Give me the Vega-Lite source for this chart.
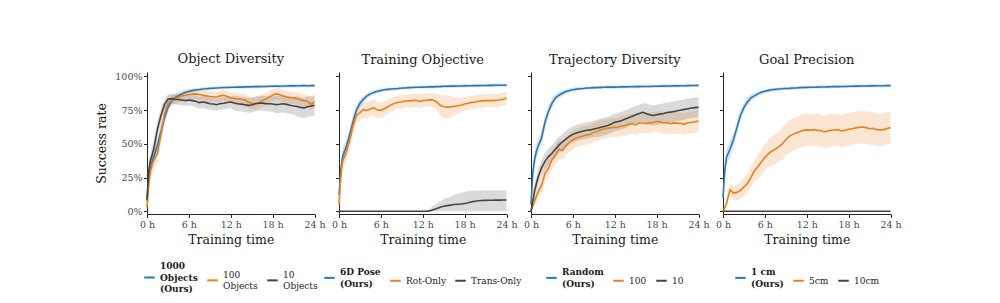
{
  "$schema": "https://vega.github.io/schema/vega-lite/v6.json",
  "padding": {"left": 95, "top": 53, "right": 5, "bottom": 5},
  "bounds": "flush",
  "spacing": 24,
  "resolve": {"scale": {"color": "independent"}, "legend": {"color": "independent"}},
  "config": {
    "font": "DejaVu Serif",
    "view": {"stroke": null},
    "axis": {"grid": false, "domainColor": "#262626", "tickColor": "#262626", "tickSize": 3.5, "labelFontSize": 9.5, "labelColor": "#4a4a4a", "labelPadding": 1.5, "titleFontSize": 12.5, "titleFontWeight": "normal", "titleColor": "#1a1a1a"},
    "axisX": {"titlePadding": 5},
    "axisY": {"titlePadding": 6},
    "title": {"fontSize": 13, "fontWeight": "normal", "color": "#1a1a1a", "offset": 5, "anchor": "middle"},
    "legend": {"orient": "bottom", "direction": "horizontal", "labelFontSize": 9, "labelColor": "#1a1a1a", "symbolType": "stroke", "symbolStrokeWidth": 2, "symbolSize": 110, "symbolOpacity": 1, "columnPadding": 5, "labelOffset": 4, "offset": 25, "layout": {"bottom": {"anchor": "middle"}}}
  },
  "datasets": {
    "objectDiversity": [
      {"s":"1000","t":0,"m":10,"l":4,"h":16},{"s":"1000","t":0.25,"m":25,"l":19,"h":31},{"s":"1000","t":0.5,"m":32,"l":26,"h":38},{"s":"1000","t":0.75,"m":37,"l":31,"h":43},{"s":"1000","t":1,"m":41,"l":35,"h":47},{"s":"1000","t":1.5,"m":49,"l":43,"h":55},{"s":"1000","t":2,"m":59,"l":53,"h":65},{"s":"1000","t":2.5,"m":69,"l":64,"h":74},{"s":"1000","t":3,"m":77,"l":73,"h":81},{"s":"1000","t":3.5,"m":81.5,"l":78.5,"h":84.5},{"s":"1000","t":4,"m":84,"l":81.5,"h":86.5},{"s":"1000","t":4.5,"m":85.6,"l":83.6,"h":87.6},{"s":"1000","t":5,"m":86.9,"l":85.1,"h":88.7},{"s":"1000","t":5.5,"m":88,"l":86.4,"h":89.6},{"s":"1000","t":6,"m":88.8,"l":87.3,"h":90.3},{"s":"1000","t":6.5,"m":89.4,"l":88,"h":90.8},{"s":"1000","t":7,"m":89.9,"l":88.6,"h":91.2},{"s":"1000","t":7.5,"m":90.2,"l":88.9,"h":91.5},{"s":"1000","t":8,"m":90.6,"l":89.3,"h":91.9},{"s":"1000","t":8.5,"m":90.8,"l":89.6,"h":92},{"s":"1000","t":9,"m":91.1,"l":89.9,"h":92.3},{"s":"1000","t":9.5,"m":91.2,"l":90,"h":92.4},{"s":"1000","t":10,"m":91.4,"l":90.2,"h":92.6},{"s":"1000","t":10.5,"m":91.5,"l":90.3,"h":92.7},{"s":"1000","t":11,"m":91.7,"l":90.5,"h":92.9},{"s":"1000","t":11.5,"m":91.7,"l":90.5,"h":92.9},{"s":"1000","t":12,"m":91.9,"l":90.7,"h":93.1},{"s":"1000","t":12.5,"m":91.9,"l":90.7,"h":93.1},{"s":"1000","t":13,"m":92.1,"l":90.9,"h":93.3},{"s":"1000","t":13.5,"m":92,"l":90.8,"h":93.2},{"s":"1000","t":14,"m":92.2,"l":91,"h":93.4},{"s":"1000","t":14.5,"m":92.2,"l":91,"h":93.4},{"s":"1000","t":15,"m":92.3,"l":91.1,"h":93.5},{"s":"1000","t":15.5,"m":92.4,"l":91.2,"h":93.6},{"s":"1000","t":16,"m":92.4,"l":91.2,"h":93.6},{"s":"1000","t":16.5,"m":92.5,"l":91.3,"h":93.7},{"s":"1000","t":17,"m":92.5,"l":91.3,"h":93.7},{"s":"1000","t":17.5,"m":92.6,"l":91.4,"h":93.8},{"s":"1000","t":18,"m":92.6,"l":91.4,"h":93.8},{"s":"1000","t":18.5,"m":92.7,"l":91.5,"h":93.9},{"s":"1000","t":19,"m":92.6,"l":91.4,"h":93.8},{"s":"1000","t":19.5,"m":92.8,"l":91.6,"h":94},{"s":"1000","t":20,"m":92.8,"l":91.6,"h":94},{"s":"1000","t":20.5,"m":92.9,"l":91.7,"h":94.1},{"s":"1000","t":21,"m":92.9,"l":91.7,"h":94.1},{"s":"1000","t":21.5,"m":93,"l":91.8,"h":94.2},{"s":"1000","t":22,"m":93,"l":91.8,"h":94.2},{"s":"1000","t":22.5,"m":93.1,"l":91.9,"h":94.3},{"s":"1000","t":23,"m":93,"l":91.8,"h":94.2},{"s":"1000","t":23.5,"m":93.1,"l":91.9,"h":94.3},{"s":"1000","t":24,"m":93.1,"l":91.9,"h":94.3},
      {"s":"100","t":0,"m":3,"l":0,"h":6},{"s":"100","t":0.25,"m":20,"l":14,"h":26},{"s":"100","t":0.5,"m":30,"l":23,"h":37},{"s":"100","t":0.75,"m":35,"l":28,"h":42},{"s":"100","t":1,"m":38,"l":31,"h":45},{"s":"100","t":1.5,"m":43,"l":36,"h":50},{"s":"100","t":2,"m":57,"l":50,"h":64},{"s":"100","t":2.5,"m":72,"l":66,"h":78},{"s":"100","t":3,"m":80,"l":75,"h":85},{"s":"100","t":3.5,"m":82,"l":78,"h":86},{"s":"100","t":4,"m":83.5,"l":79.5,"h":87.5},{"s":"100","t":4.5,"m":84.5,"l":80.5,"h":88.5},{"s":"100","t":5,"m":85.5,"l":81.5,"h":89.5},{"s":"100","t":5.5,"m":86,"l":82,"h":90},{"s":"100","t":6,"m":86.5,"l":82.5,"h":90.5},{"s":"100","t":6.5,"m":86.8,"l":82.8,"h":90.8},{"s":"100","t":7,"m":87,"l":83,"h":91},{"s":"100","t":7.5,"m":86.5,"l":82.5,"h":90.5},{"s":"100","t":8,"m":86,"l":82,"h":90},{"s":"100","t":8.5,"m":85.5,"l":81.5,"h":89.5},{"s":"100","t":9,"m":85,"l":81,"h":89},{"s":"100","t":9.5,"m":84.8,"l":80.8,"h":88.8},{"s":"100","t":10,"m":84.7,"l":80.7,"h":88.7},{"s":"100","t":10.5,"m":85.5,"l":81.5,"h":89.5},{"s":"100","t":11,"m":86,"l":82,"h":90},{"s":"100","t":11.5,"m":85,"l":81,"h":89},{"s":"100","t":12,"m":84,"l":80,"h":88},{"s":"100","t":12.5,"m":83.6,"l":79.1,"h":88.1},{"s":"100","t":13,"m":83.4,"l":78.9,"h":87.9},{"s":"100","t":13.5,"m":83,"l":78.5,"h":87.5},{"s":"100","t":14,"m":82.5,"l":78,"h":87},{"s":"100","t":14.5,"m":81,"l":76.5,"h":85.5},{"s":"100","t":15,"m":80,"l":75.5,"h":84.5},{"s":"100","t":15.5,"m":79.7,"l":75.2,"h":84.2},{"s":"100","t":16,"m":80.5,"l":76,"h":85},{"s":"100","t":16.5,"m":82,"l":77.5,"h":86.5},{"s":"100","t":17,"m":83,"l":78.5,"h":87.5},{"s":"100","t":17.5,"m":84.5,"l":80,"h":89},{"s":"100","t":18,"m":86,"l":81.5,"h":90.5},{"s":"100","t":18.5,"m":87,"l":82.5,"h":91.5},{"s":"100","t":19,"m":86.5,"l":82,"h":91},{"s":"100","t":19.5,"m":85.5,"l":81,"h":90},{"s":"100","t":20,"m":84.7,"l":80.2,"h":89.2},{"s":"100","t":20.5,"m":84.2,"l":79.7,"h":88.7},{"s":"100","t":21,"m":84,"l":79.5,"h":88.5},{"s":"100","t":21.5,"m":83.5,"l":79,"h":88},{"s":"100","t":22,"m":82.7,"l":78.2,"h":87.2},{"s":"100","t":22.5,"m":82,"l":77.5,"h":86.5},{"s":"100","t":23,"m":81.4,"l":76.9,"h":85.9},{"s":"100","t":23.5,"m":79.5,"l":75,"h":84},{"s":"100","t":24,"m":81,"l":76.5,"h":85.5},
      {"s":"10","t":0,"m":8,"l":3,"h":13},{"s":"10","t":0.25,"m":30,"l":24,"h":36},{"s":"10","t":0.5,"m":38,"l":32,"h":44},{"s":"10","t":0.75,"m":42,"l":36,"h":48},{"s":"10","t":1,"m":47,"l":41,"h":53},{"s":"10","t":1.5,"m":61,"l":55,"h":67},{"s":"10","t":2,"m":71,"l":66,"h":76},{"s":"10","t":2.5,"m":79,"l":75,"h":83},{"s":"10","t":3,"m":83,"l":79.5,"h":86.5},{"s":"10","t":3.5,"m":83.5,"l":80,"h":87},{"s":"10","t":4,"m":83,"l":79.5,"h":86.5},{"s":"10","t":4.5,"m":82.8,"l":78.8,"h":86.8},{"s":"10","t":5,"m":82.5,"l":78.5,"h":86.5},{"s":"10","t":5.5,"m":82,"l":78,"h":86},{"s":"10","t":6,"m":82.5,"l":78.5,"h":86.5},{"s":"10","t":6.5,"m":82,"l":78,"h":86},{"s":"10","t":7,"m":81.5,"l":77,"h":86},{"s":"10","t":7.5,"m":80.5,"l":76,"h":85},{"s":"10","t":8,"m":81,"l":76.5,"h":85.5},{"s":"10","t":8.5,"m":80.5,"l":76,"h":85},{"s":"10","t":9,"m":79.7,"l":75.2,"h":84.2},{"s":"10","t":9.5,"m":79.5,"l":75,"h":84},{"s":"10","t":10,"m":79,"l":74.5,"h":83.5},{"s":"10","t":10.5,"m":79.8,"l":75.3,"h":84.3},{"s":"10","t":11,"m":80,"l":75.5,"h":84.5},{"s":"10","t":11.5,"m":80.6,"l":76.1,"h":85.1},{"s":"10","t":12,"m":81,"l":76.5,"h":85.5},{"s":"10","t":12.5,"m":80.2,"l":74.7,"h":85.7},{"s":"10","t":13,"m":79.7,"l":74.2,"h":85.2},{"s":"10","t":13.5,"m":79.4,"l":73.9,"h":84.9},{"s":"10","t":14,"m":79,"l":73.5,"h":84.5},{"s":"10","t":14.5,"m":78.5,"l":73,"h":84},{"s":"10","t":15,"m":78.7,"l":73.2,"h":84.2},{"s":"10","t":15.5,"m":79.7,"l":74.2,"h":85.2},{"s":"10","t":16,"m":80,"l":74.5,"h":85.5},{"s":"10","t":16.5,"m":80.2,"l":74.7,"h":85.7},{"s":"10","t":17,"m":79.8,"l":74.3,"h":85.3},{"s":"10","t":17.5,"m":79.7,"l":74.2,"h":85.2},{"s":"10","t":18,"m":79.5,"l":74,"h":85},{"s":"10","t":18.5,"m":79,"l":72.5,"h":85.5},{"s":"10","t":19,"m":79.3,"l":72.8,"h":85.8},{"s":"10","t":19.5,"m":79.7,"l":73.2,"h":86.2},{"s":"10","t":20,"m":79.2,"l":72.7,"h":85.7},{"s":"10","t":20.5,"m":78.5,"l":72,"h":85},{"s":"10","t":21,"m":78,"l":71.5,"h":84.5},{"s":"10","t":21.5,"m":77.7,"l":70.2,"h":85.2},{"s":"10","t":22,"m":77,"l":69.5,"h":84.5},{"s":"10","t":22.5,"m":76.5,"l":69,"h":84},{"s":"10","t":23,"m":77.5,"l":70,"h":85},{"s":"10","t":23.5,"m":78,"l":70.5,"h":85.5},{"s":"10","t":24,"m":78.5,"l":71,"h":86}
    ],
    "trainingObjective": [
      {"s":"6D Pose","t":0,"m":12,"l":6,"h":18},{"s":"6D Pose","t":0.25,"m":30,"l":24,"h":36},{"s":"6D Pose","t":0.5,"m":40,"l":34,"h":46},{"s":"6D Pose","t":0.75,"m":44,"l":38,"h":50},{"s":"6D Pose","t":1,"m":47,"l":42,"h":52},{"s":"6D Pose","t":1.5,"m":56,"l":51,"h":61},{"s":"6D Pose","t":2,"m":66,"l":61,"h":71},{"s":"6D Pose","t":2.5,"m":75,"l":71,"h":79},{"s":"6D Pose","t":3,"m":80,"l":77,"h":83},{"s":"6D Pose","t":3.5,"m":83,"l":80.5,"h":85.5},{"s":"6D Pose","t":4,"m":85.5,"l":83.5,"h":87.5},{"s":"6D Pose","t":4.5,"m":87,"l":85.2,"h":88.8},{"s":"6D Pose","t":5,"m":88,"l":86.4,"h":89.6},{"s":"6D Pose","t":5.5,"m":89,"l":87.5,"h":90.5},{"s":"6D Pose","t":6,"m":89.5,"l":88.1,"h":90.9},{"s":"6D Pose","t":6.5,"m":90,"l":88.7,"h":91.3},{"s":"6D Pose","t":7,"m":90.3,"l":89.1,"h":91.5},{"s":"6D Pose","t":7.5,"m":90.6,"l":89.4,"h":91.8},{"s":"6D Pose","t":8,"m":90.8,"l":89.6,"h":92},{"s":"6D Pose","t":8.5,"m":91,"l":89.8,"h":92.2},{"s":"6D Pose","t":9,"m":91.3,"l":90.1,"h":92.5},{"s":"6D Pose","t":9.5,"m":91.4,"l":90.2,"h":92.6},{"s":"6D Pose","t":10,"m":91.6,"l":90.4,"h":92.8},{"s":"6D Pose","t":10.5,"m":91.7,"l":90.5,"h":92.9},{"s":"6D Pose","t":11,"m":91.9,"l":90.7,"h":93.1},{"s":"6D Pose","t":11.5,"m":91.9,"l":90.7,"h":93.1},{"s":"6D Pose","t":12,"m":92,"l":90.8,"h":93.2},{"s":"6D Pose","t":12.5,"m":92.1,"l":90.9,"h":93.3},{"s":"6D Pose","t":13,"m":92.2,"l":91,"h":93.4},{"s":"6D Pose","t":13.5,"m":92.2,"l":91,"h":93.4},{"s":"6D Pose","t":14,"m":92.4,"l":91.2,"h":93.6},{"s":"6D Pose","t":14.5,"m":92.4,"l":91.2,"h":93.6},{"s":"6D Pose","t":15,"m":92.6,"l":91.4,"h":93.8},{"s":"6D Pose","t":15.5,"m":92.6,"l":91.4,"h":93.8},{"s":"6D Pose","t":16,"m":92.7,"l":91.5,"h":93.9},{"s":"6D Pose","t":16.5,"m":92.7,"l":91.5,"h":93.9},{"s":"6D Pose","t":17,"m":92.8,"l":91.6,"h":94},{"s":"6D Pose","t":17.5,"m":92.8,"l":91.6,"h":94},{"s":"6D Pose","t":18,"m":92.9,"l":91.7,"h":94.1},{"s":"6D Pose","t":18.5,"m":93,"l":91.8,"h":94.2},{"s":"6D Pose","t":19,"m":93,"l":91.8,"h":94.2},{"s":"6D Pose","t":19.5,"m":93.1,"l":91.9,"h":94.3},{"s":"6D Pose","t":20,"m":93.1,"l":91.9,"h":94.3},{"s":"6D Pose","t":20.5,"m":93.2,"l":92,"h":94.4},{"s":"6D Pose","t":21,"m":93.2,"l":92,"h":94.4},{"s":"6D Pose","t":21.5,"m":93.3,"l":92.1,"h":94.5},{"s":"6D Pose","t":22,"m":93.3,"l":92.1,"h":94.5},{"s":"6D Pose","t":22.5,"m":93.4,"l":92.2,"h":94.6},{"s":"6D Pose","t":23,"m":93.4,"l":92.2,"h":94.6},{"s":"6D Pose","t":23.5,"m":93.4,"l":92.2,"h":94.6},{"s":"6D Pose","t":24,"m":93.5,"l":92.3,"h":94.7},
      {"s":"Rot-Only","t":0,"m":5,"l":1,"h":9},{"s":"Rot-Only","t":0.25,"m":25,"l":19,"h":31},{"s":"Rot-Only","t":0.5,"m":37,"l":30,"h":44},{"s":"Rot-Only","t":0.75,"m":40,"l":33,"h":47},{"s":"Rot-Only","t":1,"m":43,"l":36,"h":50},{"s":"Rot-Only","t":1.5,"m":52,"l":45,"h":59},{"s":"Rot-Only","t":2,"m":63,"l":56,"h":70},{"s":"Rot-Only","t":2.5,"m":71,"l":65,"h":77},{"s":"Rot-Only","t":3,"m":73,"l":67,"h":79},{"s":"Rot-Only","t":3.5,"m":75.5,"l":69.5,"h":81.5},{"s":"Rot-Only","t":4,"m":74.5,"l":68.5,"h":80.5},{"s":"Rot-Only","t":4.5,"m":76,"l":70,"h":82},{"s":"Rot-Only","t":5,"m":76.6,"l":70.6,"h":82.6},{"s":"Rot-Only","t":5.5,"m":75,"l":69,"h":81},{"s":"Rot-Only","t":6,"m":74.8,"l":69.3,"h":80.3},{"s":"Rot-Only","t":6.5,"m":76,"l":70.5,"h":81.5},{"s":"Rot-Only","t":7,"m":77.5,"l":72.5,"h":82.5},{"s":"Rot-Only","t":7.5,"m":79,"l":74,"h":84},{"s":"Rot-Only","t":8,"m":80,"l":75,"h":85},{"s":"Rot-Only","t":8.5,"m":80.8,"l":75.8,"h":85.8},{"s":"Rot-Only","t":9,"m":81,"l":76,"h":86},{"s":"Rot-Only","t":9.5,"m":81.7,"l":76.7,"h":86.7},{"s":"Rot-Only","t":10,"m":81.8,"l":76.8,"h":86.8},{"s":"Rot-Only","t":10.5,"m":82,"l":77,"h":87},{"s":"Rot-Only","t":11,"m":82.2,"l":77.2,"h":87.2},{"s":"Rot-Only","t":11.5,"m":81.4,"l":76.4,"h":86.4},{"s":"Rot-Only","t":12,"m":82,"l":77,"h":87},{"s":"Rot-Only","t":12.5,"m":82.3,"l":77.3,"h":87.3},{"s":"Rot-Only","t":13,"m":82.7,"l":77.7,"h":87.7},{"s":"Rot-Only","t":13.5,"m":82.5,"l":77.5,"h":87.5},{"s":"Rot-Only","t":14,"m":81,"l":75,"h":87},{"s":"Rot-Only","t":14.5,"m":78.5,"l":71,"h":86},{"s":"Rot-Only","t":15,"m":77.5,"l":69,"h":86},{"s":"Rot-Only","t":15.5,"m":77.2,"l":68.7,"h":85.7},{"s":"Rot-Only","t":16,"m":77.5,"l":69.5,"h":85.5},{"s":"Rot-Only","t":16.5,"m":77.7,"l":70.7,"h":84.7},{"s":"Rot-Only","t":17,"m":78.2,"l":72.2,"h":84.2},{"s":"Rot-Only","t":17.5,"m":78.5,"l":73,"h":84},{"s":"Rot-Only","t":18,"m":79.5,"l":74.5,"h":84.5},{"s":"Rot-Only","t":18.5,"m":80,"l":75,"h":85},{"s":"Rot-Only","t":19,"m":80.7,"l":75.7,"h":85.7},{"s":"Rot-Only","t":19.5,"m":81,"l":76,"h":86},{"s":"Rot-Only","t":20,"m":81.5,"l":76.5,"h":86.5},{"s":"Rot-Only","t":20.5,"m":81.8,"l":76.8,"h":86.8},{"s":"Rot-Only","t":21,"m":82,"l":77,"h":87},{"s":"Rot-Only","t":21.5,"m":82,"l":77,"h":87},{"s":"Rot-Only","t":22,"m":82,"l":77,"h":87},{"s":"Rot-Only","t":22.5,"m":82.3,"l":77.3,"h":87.3},{"s":"Rot-Only","t":23,"m":82.5,"l":77.5,"h":87.5},{"s":"Rot-Only","t":23.5,"m":83,"l":78,"h":88},{"s":"Rot-Only","t":24,"m":84,"l":79,"h":89},
      {"s":"Trans-Only","t":0,"m":0,"l":0,"h":0},{"s":"Trans-Only","t":1,"m":0,"l":0,"h":0},{"s":"Trans-Only","t":2,"m":0,"l":0,"h":0},{"s":"Trans-Only","t":3,"m":0,"l":0,"h":0},{"s":"Trans-Only","t":4,"m":0,"l":0,"h":0},{"s":"Trans-Only","t":5,"m":0,"l":0,"h":0},{"s":"Trans-Only","t":6,"m":0,"l":0,"h":0},{"s":"Trans-Only","t":7,"m":0,"l":0,"h":0},{"s":"Trans-Only","t":8,"m":0,"l":0,"h":0},{"s":"Trans-Only","t":9,"m":0,"l":0,"h":0},{"s":"Trans-Only","t":10,"m":0,"l":0,"h":0},{"s":"Trans-Only","t":11,"m":0,"l":0,"h":0},{"s":"Trans-Only","t":12,"m":0,"l":0,"h":0},{"s":"Trans-Only","t":12.5,"m":0,"l":0,"h":0.5},{"s":"Trans-Only","t":13,"m":0.3,"l":0,"h":2},{"s":"Trans-Only","t":13.5,"m":1.2,"l":0,"h":4},{"s":"Trans-Only","t":14,"m":2,"l":0,"h":6},{"s":"Trans-Only","t":14.5,"m":3,"l":0,"h":7.5},{"s":"Trans-Only","t":15,"m":3.7,"l":0,"h":9},{"s":"Trans-Only","t":15.5,"m":4.2,"l":0,"h":10},{"s":"Trans-Only","t":16,"m":4.6,"l":0,"h":11},{"s":"Trans-Only","t":16.5,"m":5,"l":0,"h":12},{"s":"Trans-Only","t":17,"m":5.2,"l":0,"h":13},{"s":"Trans-Only","t":17.5,"m":5.4,"l":0,"h":13.5},{"s":"Trans-Only","t":18,"m":5.8,"l":0,"h":14.5},{"s":"Trans-Only","t":18.5,"m":6.3,"l":0,"h":15},{"s":"Trans-Only","t":19,"m":7,"l":0,"h":15},{"s":"Trans-Only","t":19.5,"m":7.5,"l":0,"h":15.5},{"s":"Trans-Only","t":20,"m":7.8,"l":0,"h":15.5},{"s":"Trans-Only","t":20.5,"m":8,"l":0,"h":15.5},{"s":"Trans-Only","t":21,"m":8.1,"l":0,"h":15.5},{"s":"Trans-Only","t":21.5,"m":8.2,"l":0,"h":15.5},{"s":"Trans-Only","t":22,"m":8.2,"l":0,"h":15.5},{"s":"Trans-Only","t":22.5,"m":8.3,"l":0,"h":15.5},{"s":"Trans-Only","t":23,"m":8.3,"l":0,"h":15.5},{"s":"Trans-Only","t":23.5,"m":8.4,"l":0,"h":15.5},{"s":"Trans-Only","t":24,"m":8.4,"l":0,"h":15.5}
    ],
    "trajectoryDiversity": [
      {"s":"Random","t":0,"m":5,"l":0,"h":10},{"s":"Random","t":0.25,"m":28,"l":22,"h":34},{"s":"Random","t":0.5,"m":38,"l":32,"h":44},{"s":"Random","t":0.75,"m":44,"l":38,"h":50},{"s":"Random","t":1,"m":48,"l":43,"h":53},{"s":"Random","t":1.5,"m":54,"l":49,"h":59},{"s":"Random","t":2,"m":66,"l":61,"h":71},{"s":"Random","t":2.5,"m":74,"l":70,"h":78},{"s":"Random","t":3,"m":80,"l":76.5,"h":83.5},{"s":"Random","t":3.5,"m":84,"l":81,"h":87},{"s":"Random","t":4,"m":86,"l":83.5,"h":88.5},{"s":"Random","t":4.5,"m":87.5,"l":85.5,"h":89.5},{"s":"Random","t":5,"m":88.8,"l":87,"h":90.6},{"s":"Random","t":5.5,"m":89.5,"l":87.9,"h":91.1},{"s":"Random","t":6,"m":90,"l":88.5,"h":91.5},{"s":"Random","t":6.5,"m":90.5,"l":89.1,"h":91.9},{"s":"Random","t":7,"m":90.8,"l":89.5,"h":92.1},{"s":"Random","t":7.5,"m":91,"l":89.8,"h":92.2},{"s":"Random","t":8,"m":91.3,"l":90.1,"h":92.5},{"s":"Random","t":8.5,"m":91.4,"l":90.2,"h":92.6},{"s":"Random","t":9,"m":91.6,"l":90.4,"h":92.8},{"s":"Random","t":9.5,"m":91.6,"l":90.4,"h":92.8},{"s":"Random","t":10,"m":91.8,"l":90.6,"h":93},{"s":"Random","t":10.5,"m":91.9,"l":90.7,"h":93.1},{"s":"Random","t":11,"m":92,"l":90.8,"h":93.2},{"s":"Random","t":11.5,"m":92,"l":90.8,"h":93.2},{"s":"Random","t":12,"m":92,"l":90.8,"h":93.2},{"s":"Random","t":12.5,"m":92.1,"l":90.9,"h":93.3},{"s":"Random","t":13,"m":92.2,"l":91,"h":93.4},{"s":"Random","t":13.5,"m":92.2,"l":91,"h":93.4},{"s":"Random","t":14,"m":92.3,"l":91.1,"h":93.5},{"s":"Random","t":14.5,"m":92.3,"l":91.1,"h":93.5},{"s":"Random","t":15,"m":92.4,"l":91.2,"h":93.6},{"s":"Random","t":15.5,"m":92.4,"l":91.2,"h":93.6},{"s":"Random","t":16,"m":92.5,"l":91.3,"h":93.7},{"s":"Random","t":16.5,"m":92.5,"l":91.3,"h":93.7},{"s":"Random","t":17,"m":92.5,"l":91.3,"h":93.7},{"s":"Random","t":17.5,"m":92.6,"l":91.4,"h":93.8},{"s":"Random","t":18,"m":92.6,"l":91.4,"h":93.8},{"s":"Random","t":18.5,"m":92.7,"l":91.5,"h":93.9},{"s":"Random","t":19,"m":92.7,"l":91.5,"h":93.9},{"s":"Random","t":19.5,"m":92.8,"l":91.6,"h":94},{"s":"Random","t":20,"m":92.8,"l":91.6,"h":94},{"s":"Random","t":20.5,"m":92.9,"l":91.7,"h":94.1},{"s":"Random","t":21,"m":92.9,"l":91.7,"h":94.1},{"s":"Random","t":21.5,"m":93,"l":91.8,"h":94.2},{"s":"Random","t":22,"m":93,"l":91.8,"h":94.2},{"s":"Random","t":22.5,"m":93.1,"l":91.9,"h":94.3},{"s":"Random","t":23,"m":93.2,"l":92,"h":94.4},{"s":"Random","t":23.5,"m":93.2,"l":92,"h":94.4},{"s":"Random","t":24,"m":93.3,"l":92.1,"h":94.5},
      {"s":"100","t":0,"m":0,"l":0,"h":1},{"s":"100","t":0.25,"m":4,"l":1,"h":7},{"s":"100","t":0.5,"m":7.5,"l":3.5,"h":11.5},{"s":"100","t":0.75,"m":11,"l":6,"h":16},{"s":"100","t":1,"m":14,"l":9,"h":19},{"s":"100","t":1.5,"m":19,"l":13,"h":25},{"s":"100","t":2,"m":28,"l":22,"h":34},{"s":"100","t":2.5,"m":32,"l":25,"h":39},{"s":"100","t":3,"m":38,"l":31,"h":45},{"s":"100","t":3.5,"m":41.5,"l":34.5,"h":48.5},{"s":"100","t":4,"m":46,"l":39,"h":53},{"s":"100","t":4.5,"m":45,"l":38,"h":52},{"s":"100","t":5,"m":48.5,"l":41.5,"h":55.5},{"s":"100","t":5.5,"m":51,"l":44,"h":58},{"s":"100","t":6,"m":53,"l":46,"h":60},{"s":"100","t":6.5,"m":54.5,"l":47.5,"h":61.5},{"s":"100","t":7,"m":55,"l":48,"h":62},{"s":"100","t":7.5,"m":56,"l":49,"h":63},{"s":"100","t":8,"m":56.5,"l":49.5,"h":63.5},{"s":"100","t":8.5,"m":57,"l":50,"h":64},{"s":"100","t":9,"m":58.5,"l":51.5,"h":65.5},{"s":"100","t":9.5,"m":59,"l":52,"h":66},{"s":"100","t":10,"m":60.5,"l":53.5,"h":67.5},{"s":"100","t":10.5,"m":61,"l":54,"h":68},{"s":"100","t":11,"m":61.5,"l":54.5,"h":68.5},{"s":"100","t":11.5,"m":62,"l":55,"h":69},{"s":"100","t":12,"m":62.2,"l":55.2,"h":69.2},{"s":"100","t":12.5,"m":62.5,"l":55,"h":70},{"s":"100","t":13,"m":63.2,"l":55.7,"h":70.7},{"s":"100","t":13.5,"m":63.5,"l":56,"h":71},{"s":"100","t":14,"m":64.5,"l":57,"h":72},{"s":"100","t":14.5,"m":65,"l":57.5,"h":72.5},{"s":"100","t":15,"m":64,"l":56.5,"h":71.5},{"s":"100","t":15.5,"m":65.5,"l":58,"h":73},{"s":"100","t":16,"m":65.4,"l":57.9,"h":72.9},{"s":"100","t":16.5,"m":65,"l":57.5,"h":72.5},{"s":"100","t":17,"m":65.6,"l":58.1,"h":73.1},{"s":"100","t":17.5,"m":65.8,"l":58.3,"h":73.3},{"s":"100","t":18,"m":66.5,"l":59,"h":74},{"s":"100","t":18.5,"m":66.3,"l":58.3,"h":74.3},{"s":"100","t":19,"m":65.4,"l":57.4,"h":73.4},{"s":"100","t":19.5,"m":65.5,"l":57.5,"h":73.5},{"s":"100","t":20,"m":65,"l":57,"h":73},{"s":"100","t":20.5,"m":65.5,"l":57.5,"h":73.5},{"s":"100","t":21,"m":65.3,"l":57.3,"h":73.3},{"s":"100","t":21.5,"m":65,"l":57,"h":73},{"s":"100","t":22,"m":64.6,"l":56.6,"h":72.6},{"s":"100","t":22.5,"m":65.6,"l":57.6,"h":73.6},{"s":"100","t":23,"m":66,"l":58,"h":74},{"s":"100","t":23.5,"m":66.4,"l":58.4,"h":74.4},{"s":"100","t":24,"m":66.8,"l":58.8,"h":74.8},
      {"s":"10","t":0,"m":0,"l":0,"h":1},{"s":"10","t":0.25,"m":7,"l":3,"h":11},{"s":"10","t":0.5,"m":15,"l":10,"h":20},{"s":"10","t":0.75,"m":20,"l":15,"h":25},{"s":"10","t":1,"m":25,"l":19,"h":31},{"s":"10","t":1.5,"m":32,"l":26,"h":38},{"s":"10","t":2,"m":37,"l":31,"h":43},{"s":"10","t":2.5,"m":40.5,"l":34.5,"h":46.5},{"s":"10","t":3,"m":43,"l":37,"h":49},{"s":"10","t":3.5,"m":46,"l":40,"h":52},{"s":"10","t":4,"m":49,"l":43,"h":55},{"s":"10","t":4.5,"m":51.5,"l":45.5,"h":57.5},{"s":"10","t":5,"m":53.5,"l":47.5,"h":59.5},{"s":"10","t":5.5,"m":55.5,"l":49.5,"h":61.5},{"s":"10","t":6,"m":57,"l":51,"h":63},{"s":"10","t":6.5,"m":58,"l":52,"h":64},{"s":"10","t":7,"m":58.8,"l":52.8,"h":64.8},{"s":"10","t":7.5,"m":59.5,"l":53.5,"h":65.5},{"s":"10","t":8,"m":60,"l":54,"h":66},{"s":"10","t":8.5,"m":60.3,"l":54.3,"h":66.3},{"s":"10","t":9,"m":61,"l":55,"h":67},{"s":"10","t":9.5,"m":61.5,"l":55,"h":68},{"s":"10","t":10,"m":62.3,"l":55.8,"h":68.8},{"s":"10","t":10.5,"m":62.8,"l":56.3,"h":69.3},{"s":"10","t":11,"m":63.6,"l":57.1,"h":70.1},{"s":"10","t":11.5,"m":64.6,"l":58.1,"h":71.1},{"s":"10","t":12,"m":66,"l":59.5,"h":72.5},{"s":"10","t":12.5,"m":66.5,"l":60,"h":73},{"s":"10","t":13,"m":67.3,"l":60.8,"h":73.8},{"s":"10","t":13.5,"m":68.3,"l":61.8,"h":74.8},{"s":"10","t":14,"m":69.3,"l":62.8,"h":75.8},{"s":"10","t":14.5,"m":70.5,"l":64,"h":77},{"s":"10","t":15,"m":71.5,"l":65,"h":78},{"s":"10","t":15.5,"m":72.5,"l":66,"h":79},{"s":"10","t":16,"m":73.3,"l":66.8,"h":79.8},{"s":"10","t":16.5,"m":72.5,"l":65,"h":80},{"s":"10","t":17,"m":71.5,"l":64,"h":79},{"s":"10","t":17.5,"m":71,"l":63.5,"h":78.5},{"s":"10","t":18,"m":71.5,"l":64,"h":79},{"s":"10","t":18.5,"m":72,"l":64.5,"h":79.5},{"s":"10","t":19,"m":72.5,"l":65,"h":80},{"s":"10","t":19.5,"m":73.2,"l":65.7,"h":80.7},{"s":"10","t":20,"m":73.5,"l":66,"h":81},{"s":"10","t":20.5,"m":74,"l":66.5,"h":81.5},{"s":"10","t":21,"m":74.5,"l":67,"h":82},{"s":"10","t":21.5,"m":75,"l":67.5,"h":82.5},{"s":"10","t":22,"m":75.5,"l":68,"h":83},{"s":"10","t":22.5,"m":76,"l":68.5,"h":83.5},{"s":"10","t":23,"m":76.5,"l":69,"h":84},{"s":"10","t":23.5,"m":76.8,"l":69.3,"h":84.3},{"s":"10","t":24,"m":77,"l":69.5,"h":84.5}
    ],
    "goalPrecision": [
      {"s":"1 cm","t":0,"m":10,"l":5,"h":15},{"s":"1 cm","t":0.25,"m":30,"l":24,"h":36},{"s":"1 cm","t":0.5,"m":40,"l":34,"h":46},{"s":"1 cm","t":0.75,"m":43,"l":37,"h":49},{"s":"1 cm","t":1,"m":46,"l":40,"h":52},{"s":"1 cm","t":1.5,"m":53,"l":48,"h":58},{"s":"1 cm","t":2,"m":62,"l":57,"h":67},{"s":"1 cm","t":2.5,"m":71,"l":67,"h":75},{"s":"1 cm","t":3,"m":77,"l":73.5,"h":80.5},{"s":"1 cm","t":3.5,"m":81,"l":78,"h":84},{"s":"1 cm","t":4,"m":84,"l":81.5,"h":86.5},{"s":"1 cm","t":4.5,"m":85.5,"l":83.5,"h":87.5},{"s":"1 cm","t":5,"m":87,"l":85.2,"h":88.8},{"s":"1 cm","t":5.5,"m":88.2,"l":86.6,"h":89.8},{"s":"1 cm","t":6,"m":89,"l":87.5,"h":90.5},{"s":"1 cm","t":6.5,"m":89.6,"l":88.2,"h":91},{"s":"1 cm","t":7,"m":90,"l":88.7,"h":91.3},{"s":"1 cm","t":7.5,"m":90.3,"l":89.1,"h":91.5},{"s":"1 cm","t":8,"m":90.6,"l":89.4,"h":91.8},{"s":"1 cm","t":8.5,"m":90.8,"l":89.6,"h":92},{"s":"1 cm","t":9,"m":91,"l":89.8,"h":92.2},{"s":"1 cm","t":9.5,"m":91.1,"l":89.9,"h":92.3},{"s":"1 cm","t":10,"m":91.3,"l":90.1,"h":92.5},{"s":"1 cm","t":10.5,"m":91.4,"l":90.2,"h":92.6},{"s":"1 cm","t":11,"m":91.6,"l":90.4,"h":92.8},{"s":"1 cm","t":11.5,"m":91.7,"l":90.5,"h":92.9},{"s":"1 cm","t":12,"m":91.8,"l":90.6,"h":93},{"s":"1 cm","t":12.5,"m":91.9,"l":90.7,"h":93.1},{"s":"1 cm","t":13,"m":91.9,"l":90.7,"h":93.1},{"s":"1 cm","t":13.5,"m":92,"l":90.8,"h":93.2},{"s":"1 cm","t":14,"m":92.1,"l":90.9,"h":93.3},{"s":"1 cm","t":14.5,"m":92.1,"l":90.9,"h":93.3},{"s":"1 cm","t":15,"m":92.2,"l":91,"h":93.4},{"s":"1 cm","t":15.5,"m":92.3,"l":91.1,"h":93.5},{"s":"1 cm","t":16,"m":92.4,"l":91.2,"h":93.6},{"s":"1 cm","t":16.5,"m":92.4,"l":91.2,"h":93.6},{"s":"1 cm","t":17,"m":92.5,"l":91.3,"h":93.7},{"s":"1 cm","t":17.5,"m":92.5,"l":91.3,"h":93.7},{"s":"1 cm","t":18,"m":92.6,"l":91.4,"h":93.8},{"s":"1 cm","t":18.5,"m":92.6,"l":91.4,"h":93.8},{"s":"1 cm","t":19,"m":92.7,"l":91.5,"h":93.9},{"s":"1 cm","t":19.5,"m":92.7,"l":91.5,"h":93.9},{"s":"1 cm","t":20,"m":92.8,"l":91.6,"h":94},{"s":"1 cm","t":20.5,"m":92.8,"l":91.6,"h":94},{"s":"1 cm","t":21,"m":92.9,"l":91.7,"h":94.1},{"s":"1 cm","t":21.5,"m":92.9,"l":91.7,"h":94.1},{"s":"1 cm","t":22,"m":93,"l":91.8,"h":94.2},{"s":"1 cm","t":22.5,"m":93,"l":91.8,"h":94.2},{"s":"1 cm","t":23,"m":93,"l":91.8,"h":94.2},{"s":"1 cm","t":23.5,"m":93.1,"l":91.9,"h":94.3},{"s":"1 cm","t":24,"m":93.1,"l":91.9,"h":94.3},
      {"s":"5cm","t":0,"m":0,"l":0,"h":1},{"s":"5cm","t":0.25,"m":2.5,"l":0.5,"h":4.5},{"s":"5cm","t":0.5,"m":6,"l":3,"h":9},{"s":"5cm","t":0.75,"m":11,"l":7,"h":15},{"s":"5cm","t":1,"m":16,"l":12,"h":20},{"s":"5cm","t":1.5,"m":13.5,"l":8.5,"h":18.5},{"s":"5cm","t":2,"m":14,"l":8,"h":20},{"s":"5cm","t":2.5,"m":15.5,"l":9.5,"h":21.5},{"s":"5cm","t":3,"m":18,"l":11,"h":25},{"s":"5cm","t":3.5,"m":20.5,"l":13.5,"h":27.5},{"s":"5cm","t":4,"m":25,"l":17,"h":33},{"s":"5cm","t":4.5,"m":30,"l":22,"h":38},{"s":"5cm","t":5,"m":33,"l":24,"h":42},{"s":"5cm","t":5.5,"m":36.5,"l":27.5,"h":45.5},{"s":"5cm","t":6,"m":40,"l":30,"h":50},{"s":"5cm","t":6.5,"m":42.5,"l":32.5,"h":52.5},{"s":"5cm","t":7,"m":44.5,"l":33.5,"h":55.5},{"s":"5cm","t":7.5,"m":46,"l":35,"h":57},{"s":"5cm","t":8,"m":48,"l":37,"h":59},{"s":"5cm","t":8.5,"m":50,"l":38,"h":62},{"s":"5cm","t":9,"m":53,"l":41,"h":65},{"s":"5cm","t":9.5,"m":55.5,"l":43.5,"h":67.5},{"s":"5cm","t":10,"m":57,"l":45,"h":69},{"s":"5cm","t":10.5,"m":58,"l":46,"h":70},{"s":"5cm","t":11,"m":59,"l":47,"h":71},{"s":"5cm","t":11.5,"m":60,"l":48,"h":72},{"s":"5cm","t":12,"m":60.3,"l":48.3,"h":72.3},{"s":"5cm","t":12.5,"m":60,"l":48,"h":72},{"s":"5cm","t":13,"m":60.5,"l":48.5,"h":72.5},{"s":"5cm","t":13.5,"m":60,"l":48,"h":72},{"s":"5cm","t":14,"m":59.8,"l":47.8,"h":71.8},{"s":"5cm","t":14.5,"m":58.8,"l":46.8,"h":70.8},{"s":"5cm","t":15,"m":59.5,"l":47.5,"h":71.5},{"s":"5cm","t":15.5,"m":60,"l":48,"h":72},{"s":"5cm","t":16,"m":60.2,"l":48.2,"h":72.2},{"s":"5cm","t":16.5,"m":60.5,"l":48.5,"h":72.5},{"s":"5cm","t":17,"m":59.5,"l":47.5,"h":71.5},{"s":"5cm","t":17.5,"m":60,"l":48,"h":72},{"s":"5cm","t":18,"m":60.8,"l":48.8,"h":72.8},{"s":"5cm","t":18.5,"m":61.2,"l":49.2,"h":73.2},{"s":"5cm","t":19,"m":61.8,"l":49.8,"h":73.8},{"s":"5cm","t":19.5,"m":62.2,"l":50.2,"h":74.2},{"s":"5cm","t":20,"m":62.5,"l":50.5,"h":74.5},{"s":"5cm","t":20.5,"m":62,"l":50,"h":74},{"s":"5cm","t":21,"m":61.2,"l":49.2,"h":73.2},{"s":"5cm","t":21.5,"m":61.5,"l":49.5,"h":73.5},{"s":"5cm","t":22,"m":60.5,"l":48.5,"h":72.5},{"s":"5cm","t":22.5,"m":60.2,"l":48.2,"h":72.2},{"s":"5cm","t":23,"m":60.5,"l":48.5,"h":72.5},{"s":"5cm","t":23.5,"m":61.3,"l":49.3,"h":73.3},{"s":"5cm","t":24,"m":62,"l":50,"h":74},
      {"s":"10cm","t":0,"m":0,"l":0,"h":0},{"s":"10cm","t":4,"m":0,"l":0,"h":0},{"s":"10cm","t":8,"m":0,"l":0,"h":0},{"s":"10cm","t":12,"m":0,"l":0,"h":0},{"s":"10cm","t":16,"m":0,"l":0,"h":0},{"s":"10cm","t":20,"m":0,"l":0,"h":0},{"s":"10cm","t":24,"m":0,"l":0,"h":0}
    ]
  },
  "hconcat": [
    {
      "title": "Object Diversity",
      "width": 167.5,
      "height": 142,
      "data": {"name": "objectDiversity"},
      "encoding": {"x": {"field": "t", "type": "quantitative", "scale": {"domain": [0, 24], "nice": false}, "axis": {"values": [0, 6, 12, 18, 24], "labelExpr": "datum.value + ' h'", "labelFlush": false, "title": "Training time"}}},
      "layer": [
        {"mark": {"type": "area", "fillOpacity": 0.2}, "encoding": {"y": {"field": "l", "type": "quantitative", "scale": {"domain": [-2, 103.2], "nice": false, "zero": false}, "axis": {"values": [0, 25, 50, 75, 100], "labelExpr": "datum.value + '%'", "title": "Success rate"}}, "y2": {"field": "h"}, "color": {"field": "s", "type": "nominal"}}},
        {"mark": {"type": "line", "strokeWidth": 1.6}, "encoding": {"y": {"field": "m", "type": "quantitative", "scale": {"domain": [-2, 103.2], "nice": false, "zero": false}, "axis": {"values": [0, 25, 50, 75, 100], "labelExpr": "datum.value + '%'", "title": "Success rate"}}, "color": {"field": "s", "type": "nominal", "scale": {"domain": ["1000", "100", "10"], "range": ["#2a77b4", "#e8801c", "#444444"]}, "legend": {"title": null, "columns": 3, "labelExpr": "datum.label == '1000' ? ['1000', 'Objects', '(Ours)'] : [datum.label, 'Objects']", "encode": {"labels": {"update": {"fontWeight": {"signal": "datum.index == 0 ? 'bold' : 'normal'"}, "lineHeight": {"value": 11.5}, "dy": {"signal": "datum.index == 0 ? -11.5 : -5.75"}}}}}}}}
      ]
    },
    {
      "title": "Training Objective",
      "width": 167.5,
      "height": 142,
      "data": {"name": "trainingObjective"},
      "encoding": {"x": {"field": "t", "type": "quantitative", "scale": {"domain": [0, 24], "nice": false}, "axis": {"values": [0, 6, 12, 18, 24], "labelExpr": "datum.value + ' h'", "labelFlush": false, "title": "Training time"}}},
      "layer": [
        {"mark": {"type": "area", "fillOpacity": 0.2}, "encoding": {"y": {"field": "l", "type": "quantitative", "scale": {"domain": [-2, 103.2], "nice": false, "zero": false}, "axis": {"values": [0, 25, 50, 75, 100], "labels": false, "title": null}}, "y2": {"field": "h"}, "color": {"field": "s", "type": "nominal"}}},
        {"mark": {"type": "line", "strokeWidth": 1.6}, "encoding": {"y": {"field": "m", "type": "quantitative", "scale": {"domain": [-2, 103.2], "nice": false, "zero": false}, "axis": {"values": [0, 25, 50, 75, 100], "labels": false, "title": null}}, "color": {"field": "s", "type": "nominal", "scale": {"domain": ["6D Pose", "Rot-Only", "Trans-Only"], "range": ["#2a77b4", "#e8801c", "#444444"]}, "legend": {"title": null, "columns": 3, "labelExpr": "datum.index == 0 ? [datum.label, '(Ours)'] : datum.label", "encode": {"labels": {"update": {"fontWeight": {"signal": "datum.index == 0 ? 'bold' : 'normal'"}, "lineHeight": {"value": 11.5}, "dy": {"signal": "datum.index == 0 ? -5.75 : 0"}}}}}}}}
      ]
    },
    {
      "title": "Trajectory Diversity",
      "width": 167.5,
      "height": 142,
      "data": {"name": "trajectoryDiversity"},
      "encoding": {"x": {"field": "t", "type": "quantitative", "scale": {"domain": [0, 24], "nice": false}, "axis": {"values": [0, 6, 12, 18, 24], "labelExpr": "datum.value + ' h'", "labelFlush": false, "title": "Training time"}}},
      "layer": [
        {"mark": {"type": "area", "fillOpacity": 0.2}, "encoding": {"y": {"field": "l", "type": "quantitative", "scale": {"domain": [-2, 103.2], "nice": false, "zero": false}, "axis": {"values": [0, 25, 50, 75, 100], "labels": false, "title": null}}, "y2": {"field": "h"}, "color": {"field": "s", "type": "nominal"}}},
        {"mark": {"type": "line", "strokeWidth": 1.6}, "encoding": {"y": {"field": "m", "type": "quantitative", "scale": {"domain": [-2, 103.2], "nice": false, "zero": false}, "axis": {"values": [0, 25, 50, 75, 100], "labels": false, "title": null}}, "color": {"field": "s", "type": "nominal", "scale": {"domain": ["Random", "100", "10"], "range": ["#2a77b4", "#e8801c", "#444444"]}, "legend": {"title": null, "columns": 3, "labelExpr": "datum.index == 0 ? [datum.label, '(Ours)'] : datum.label", "encode": {"labels": {"update": {"fontWeight": {"signal": "datum.index == 0 ? 'bold' : 'normal'"}, "lineHeight": {"value": 11.5}, "dy": {"signal": "datum.index == 0 ? -5.75 : 0"}}}}}}}}
      ]
    },
    {
      "title": "Goal Precision",
      "width": 167.5,
      "height": 142,
      "data": {"name": "goalPrecision"},
      "encoding": {"x": {"field": "t", "type": "quantitative", "scale": {"domain": [0, 24], "nice": false}, "axis": {"values": [0, 6, 12, 18, 24], "labelExpr": "datum.value + ' h'", "labelFlush": false, "title": "Training time"}}},
      "layer": [
        {"mark": {"type": "area", "fillOpacity": 0.2}, "encoding": {"y": {"field": "l", "type": "quantitative", "scale": {"domain": [-2, 103.2], "nice": false, "zero": false}, "axis": {"values": [0, 25, 50, 75, 100], "labels": false, "title": null}}, "y2": {"field": "h"}, "color": {"field": "s", "type": "nominal"}}},
        {"mark": {"type": "line", "strokeWidth": 1.6}, "encoding": {"y": {"field": "m", "type": "quantitative", "scale": {"domain": [-2, 103.2], "nice": false, "zero": false}, "axis": {"values": [0, 25, 50, 75, 100], "labels": false, "title": null}}, "color": {"field": "s", "type": "nominal", "scale": {"domain": ["1 cm", "5cm", "10cm"], "range": ["#2a77b4", "#e8801c", "#444444"]}, "legend": {"title": null, "columns": 3, "labelExpr": "datum.index == 0 ? [datum.label, '(Ours)'] : datum.label", "encode": {"labels": {"update": {"fontWeight": {"signal": "datum.index == 0 ? 'bold' : 'normal'"}, "lineHeight": {"value": 11.5}, "dy": {"signal": "datum.index == 0 ? -5.75 : 0"}}}}}}}}
      ]
    }
  ]
}
